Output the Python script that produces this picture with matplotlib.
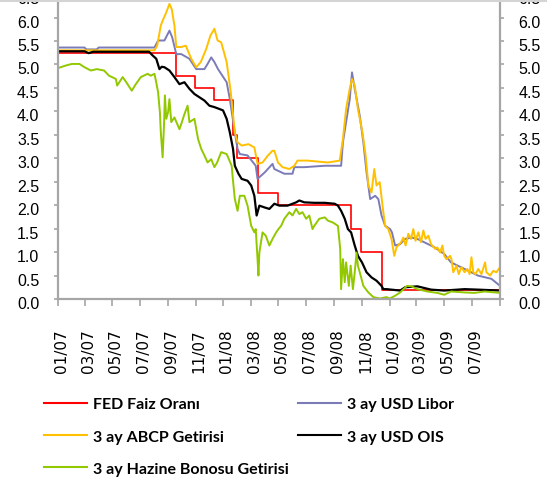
import matplotlib
matplotlib.use("Agg")
import matplotlib.pyplot as plt
import numpy as np
import pandas as pd
from matplotlib.patches import Rectangle
from matplotlib.transforms import ScaledTranslation

# FED policy rate (step changes)
fed_dates = ["2007-01-01", "2007-09-18", "2007-10-31", "2007-12-11", "2008-01-22",
             "2008-01-30", "2008-03-18", "2008-04-30", "2008-10-08", "2008-10-29",
             "2008-12-16", "2009-09-01"]
fed_rate = [5.25, 4.75, 4.50, 4.25, 3.50, 3.00, 2.25, 2.00, 1.50, 1.00, 0.20, 0.20]

# 3 month USD Libor
libor_dates = ["2007-01-01", "2007-03-01", "2007-03-05", "2007-03-28", "2007-04-01",
               "2007-08-02", "2007-08-10", "2007-08-24", "2007-09-04", "2007-09-10",
               "2007-09-19", "2007-09-30", "2007-10-18", "2007-11-02", "2007-11-20",
               "2007-11-27", "2007-12-05", "2007-12-12", "2007-12-20", "2008-01-08",
               "2008-01-15", "2008-01-26", "2008-02-01", "2008-02-06", "2008-02-23",
               "2008-03-12", "2008-03-16", "2008-04-01", "2008-04-18", "2008-04-22",
               "2008-05-14", "2008-06-01", "2008-06-05", "2008-06-27", "2008-08-11",
               "2008-09-16", "2008-09-20", "2008-09-27", "2008-10-05", "2008-10-10",
               "2008-10-16", "2008-10-27", "2008-11-04", "2008-11-11", "2008-11-19",
               "2008-11-30", "2008-12-07", "2008-12-14", "2008-12-22", "2009-01-02",
               "2009-01-06", "2009-01-13", "2009-01-24", "2009-02-04", "2009-02-18",
               "2009-03-03", "2009-03-18", "2009-04-10", "2009-05-01", "2009-05-16",
               "2009-06-15", "2009-07-14", "2009-08-13", "2009-09-01"]
libor = [5.36, 5.36, 5.32, 5.32, 5.36,
         5.36, 5.51, 5.51, 5.72, 5.58,
         5.22, 5.22, 5.12, 4.90, 4.90,
         5.01, 5.15, 5.05, 4.90, 4.62,
         4.26, 3.55, 3.20, 3.09, 3.06,
         2.84, 2.56, 2.70, 2.88, 2.77,
         2.67, 2.67, 2.81, 2.81, 2.84,
         2.84, 3.34, 3.77, 4.26, 4.83,
         4.48, 3.91, 3.34, 2.70, 2.13,
         2.20, 2.13, 1.78, 1.56, 1.49,
         1.42, 1.14, 1.17, 1.28, 1.31,
         1.28, 1.21, 1.10, 0.96, 0.78,
         0.64, 0.50, 0.43, 0.28]

# 3 month ABCP yield
abcp_dates = ["2007-01-01", "2007-08-02", "2007-08-08", "2007-08-16", "2007-08-20",
              "2007-08-28", "2007-09-04", "2007-09-09", "2007-09-15", "2007-09-19",
              "2007-09-30", "2007-10-10", "2007-10-22", "2007-11-02", "2007-11-12",
              "2007-11-24", "2007-12-03", "2007-12-12", "2007-12-19", "2007-12-27",
              "2008-01-08", "2008-01-17", "2008-01-26", "2008-02-01", "2008-02-10",
              "2008-02-25", "2008-03-09", "2008-03-16", "2008-03-27", "2008-04-08",
              "2008-04-18", "2008-04-22", "2008-04-30", "2008-05-10", "2008-05-25",
              "2008-06-05", "2008-06-12", "2008-07-04", "2008-07-26", "2008-08-18",
              "2008-09-13", "2008-09-20", "2008-09-27", "2008-10-05", "2008-10-10",
              "2008-10-16", "2008-10-23", "2008-11-02", "2008-11-09", "2008-11-15",
              "2008-11-22", "2008-11-28", "2008-12-03", "2008-12-10", "2008-12-18",
              "2008-12-22", "2008-12-29", "2009-01-05", "2009-01-11", "2009-01-16",
              "2009-01-26", "2009-01-31", "2009-02-05", "2009-02-11", "2009-02-17",
              "2009-02-22", "2009-02-27", "2009-03-05", "2009-03-11", "2009-03-16",
              "2009-03-21", "2009-03-27", "2009-04-02", "2009-04-11", "2009-04-16",
              "2009-04-22", "2009-04-27", "2009-05-01", "2009-05-06", "2009-05-14",
              "2009-05-17", "2009-05-21", "2009-05-28", "2009-06-02", "2009-06-08",
              "2009-06-15", "2009-06-21", "2009-06-26", "2009-06-30", "2009-07-04",
              "2009-07-09", "2009-07-15", "2009-07-22", "2009-07-30", "2009-08-02",
              "2009-08-10", "2009-08-17", "2009-08-24", "2009-09-01"]
abcp = [5.30, 5.30, 5.40, 5.83, 5.93,
        6.11, 6.29, 6.18, 5.83, 5.37,
        5.37, 5.40, 5.12, 4.94, 5.05,
        5.33, 5.61, 5.76, 5.51, 5.47,
        5.05, 4.41, 3.55, 3.34, 3.27,
        3.30, 3.23, 2.88, 2.91, 3.06,
        3.16, 3.16, 2.91, 2.81, 2.77,
        2.84, 2.95, 2.95, 2.93, 2.91,
        2.95, 3.41, 4.05, 4.48, 4.69,
        4.55, 4.05, 3.55, 3.06, 2.42,
        2.27, 2.77, 2.42, 2.49, 1.85,
        1.56, 1.49, 1.28, 0.92, 1.10,
        1.21, 1.31, 1.14, 1.39, 1.28,
        1.49, 1.24, 1.42, 1.21, 1.46,
        1.28, 1.35, 1.17, 1.07, 1.10,
        0.99, 1.14, 0.92, 0.85, 0.92,
        0.85, 0.57, 0.71, 0.53, 0.68,
        0.57, 0.64, 0.53, 0.89, 0.57,
        0.53, 0.64, 0.53, 0.78, 0.57,
        0.50, 0.60, 0.57, 0.68]

# 3 month USD OIS
ois_dates = ["2007-01-01", "2007-03-01", "2007-03-10", "2007-03-20", "2007-07-21",
             "2007-07-28", "2007-08-06", "2007-08-13", "2007-08-18", "2007-08-24",
             "2007-09-04", "2007-09-15", "2007-09-26", "2007-10-07", "2007-10-18",
             "2007-10-29", "2007-11-09", "2007-11-20", "2007-12-01", "2007-12-12",
             "2007-12-23", "2007-12-31", "2008-01-08", "2008-01-15", "2008-01-22",
             "2008-01-26", "2008-02-03", "2008-02-10", "2008-02-23", "2008-03-02",
             "2008-03-09", "2008-03-14", "2008-03-20", "2008-04-01", "2008-04-11",
             "2008-04-22", "2008-05-03", "2008-05-21", "2008-06-09", "2008-06-16",
             "2008-06-27", "2008-07-19", "2008-08-11", "2008-09-02", "2008-09-09",
             "2008-09-16", "2008-09-24", "2008-10-01", "2008-10-08", "2008-10-16",
             "2008-10-23", "2008-11-01", "2008-11-11", "2008-11-22", "2008-12-03",
             "2008-12-14", "2008-12-18", "2008-12-25", "2009-01-24", "2009-02-04",
             "2009-03-03", "2009-04-02", "2009-05-01", "2009-06-15", "2009-07-14",
             "2009-09-01"]
ois = [5.28, 5.28, 5.24, 5.27, 5.27,
       5.20, 5.12, 4.90, 4.95, 4.94,
       4.87, 4.73, 4.58, 4.62, 4.48,
       4.37, 4.30, 4.23, 4.12, 4.09,
       4.05, 4.02, 3.84, 3.55, 3.20,
       2.84, 2.67, 2.56, 2.52, 2.42,
       2.20, 1.78, 1.99, 1.95, 1.92,
       2.03, 1.99, 1.99, 2.06, 2.10,
       2.06, 2.05, 2.05, 2.03, 1.99,
       1.88, 1.71, 1.49, 1.42, 1.14,
       0.92, 0.78, 0.57, 0.46, 0.39,
       0.28, 0.21, 0.21, 0.18, 0.25,
       0.27, 0.20, 0.18, 0.21, 0.20,
       0.18]

# 3 month Treasury bill yield
tbill_dates = ["2007-01-01", "2007-01-20", "2007-02-01", "2007-02-18", "2007-03-01",
               "2007-03-15", "2007-03-28", "2007-04-13", "2007-04-24", "2007-05-09",
               "2007-05-12", "2007-05-24", "2007-06-01", "2007-06-13", "2007-06-22",
               "2007-07-03", "2007-07-18", "2007-07-25", "2007-08-02", "2007-08-05",
               "2007-08-10", "2007-08-14", "2007-08-16", "2007-08-20", "2007-08-23",
               "2007-08-25", "2007-08-28", "2007-09-01", "2007-09-04", "2007-09-08",
               "2007-09-15", "2007-09-26", "2007-09-30", "2007-10-07", "2007-10-14",
               "2007-10-18", "2007-10-29", "2007-11-06", "2007-11-13", "2007-11-20",
               "2007-11-27", "2007-12-05", "2007-12-12", "2007-12-18", "2007-12-27",
               "2008-01-08", "2008-01-19", "2008-01-22", "2008-01-26", "2008-02-01",
               "2008-02-06", "2008-02-16", "2008-02-23", "2008-03-02", "2008-03-09",
               "2008-03-12", "2008-03-16", "2008-03-18", "2008-03-20", "2008-03-27",
               "2008-04-03", "2008-04-11", "2008-04-18", "2008-04-26", "2008-05-01",
               "2008-05-07", "2008-05-14", "2008-05-25", "2008-06-01", "2008-06-09",
               "2008-06-16", "2008-06-23", "2008-07-01", "2008-07-08", "2008-07-15",
               "2008-07-19", "2008-07-30", "2008-08-11", "2008-08-18", "2008-08-29",
               "2008-09-09", "2008-09-14", "2008-09-16", "2008-09-20", "2008-09-24",
               "2008-09-27", "2008-10-03", "2008-10-07", "2008-10-12", "2008-10-16",
               "2008-10-20", "2008-10-23", "2008-10-29", "2008-11-04", "2008-11-15",
               "2008-11-26", "2008-12-10", "2008-12-25", "2009-01-01", "2009-01-13",
               "2009-01-24", "2009-02-08", "2009-02-18", "2009-03-03", "2009-03-25",
               "2009-04-16", "2009-05-01", "2009-05-16", "2009-06-15", "2009-07-06",
               "2009-07-29", "2009-09-01"]
tbill = [4.92, 4.98, 5.01, 5.01, 4.94,
         4.87, 4.90, 4.87, 4.76, 4.69,
         4.55, 4.73, 4.62, 4.44, 4.58,
         4.73, 4.80, 4.76, 4.80, 4.66,
         4.41, 3.98, 3.55, 3.02, 3.70,
         4.34, 3.84, 3.98, 4.26, 3.77,
         3.87, 3.62, 3.73, 3.94, 4.12,
         3.77, 3.84, 3.41, 3.20, 3.06,
         2.91, 2.98, 2.81, 2.91, 3.13,
         3.09, 2.84, 2.52, 2.13, 1.88,
         2.20, 2.20, 1.99, 1.56, 1.42,
         1.49, 0.85, 0.50, 0.99, 1.42,
         1.35, 1.14, 1.28, 1.42, 1.49,
         1.56, 1.71, 1.85, 1.78, 1.92,
         1.81, 1.85, 1.71, 1.78, 1.49,
         1.56, 1.71, 1.74, 1.67, 1.63,
         1.56, 1.07, 0.21, 0.85, 0.36,
         0.78, 0.28, 0.71, 0.21, 0.57,
         0.99, 0.71, 0.50, 0.28, 0.14,
         0.04, 0.01, 0.04, 0.01, 0.07,
         0.14, 0.28, 0.27, 0.21, 0.16,
         0.13, 0.09, 0.16, 0.14, 0.13,
         0.16, 0.13]

labels = ["FED Faiz Oranı", "3 ay USD Libor", "3 ay ABCP Getirisi",
          "3 ay USD OIS", "3 ay Hazine Bonosu Getirisi"]
colors = ["#ff0000", "#7b7bb8", "#ffc000", "#000000", "#92c800"]

fig = plt.figure(figsize=(5.55, 4.81), dpi=100)
ax = fig.add_axes([0.104, 0.3763, 0.797, 0.634])

h_fed, = ax.plot(pd.to_datetime(fed_dates), fed_rate, drawstyle="steps-post",
                 color=colors[0], lw=1.2, label=labels[0])
h_libor, = ax.plot(pd.to_datetime(libor_dates), libor, color=colors[1], lw=1.4, label=labels[1])
h_abcp, = ax.plot(pd.to_datetime(abcp_dates), abcp, color=colors[2], lw=1.4, label=labels[2])
h_ois, = ax.plot(pd.to_datetime(ois_dates), ois, color=colors[3], lw=1.6, label=labels[3])
h_tbill, = ax.plot(pd.to_datetime(tbill_dates), tbill, color=colors[4], lw=1.4, label=labels[4])

ax.set_xlim(pd.Timestamp("2007-01-01"), pd.Timestamp("2009-09-01"))
ax.set_ylim(0, 6.5)

# axes styling
axis_gray = "#a6a6a6"
for side in ["left", "right", "bottom"]:
    ax.spines[side].set_color(axis_gray)
    ax.spines[side].set_linewidth(1.6)
ax.spines["top"].set_visible(False)

yt = np.arange(0, 6.51, 0.5)
ax.set_yticks(yt)
ax.set_yticklabels([f"{v:.1f}" for v in yt])
ax.tick_params(axis="y", which="both", left=True, right=True, labelleft=True,
               labelright=True, direction="out", length=3, width=1.2,
               color=axis_gray, pad=10.3, labelsize=11.5)

xt = pd.date_range("2007-01-01", "2009-09-01", freq="2MS")
ax.set_xticks(xt)
ax.set_xticklabels([d.strftime("%m/%y") for d in xt[:-1]] + [""], rotation=90,
                   va="top", ha="center", fontfamily="DejaVu Sans", fontsize=11)
ax.tick_params(axis="x", direction="out", length=5, width=1.2, color=axis_gray, pad=16)

for t in ax.yaxis.get_major_ticks():
    for lbl in (t.label1, t.label2):
        lbl.set_fontfamily("Liberation Sans")
        lbl.set_transform(lbl.get_transform() + ScaledTranslation(0, -3 / 100, fig.dpi_scale_trans))
for t in ax.xaxis.get_major_ticks():
    t.label1.set_transform(t.label1.get_transform() + ScaledTranslation(3.5 / 100, 0, fig.dpi_scale_trans))

# chart frame edge along the top
fig.add_artist(Rectangle((0, 1 - 2.6 / 481), 547 / 555, 2.6 / 481, transform=fig.transFigure,
                         facecolor="#d4d4d4", edgecolor="none", zorder=10))

leg = fig.legend([h_fed, h_abcp, h_tbill, h_libor, h_ois],
                 [labels[0], labels[2], labels[4], labels[1], labels[3]],
                 loc="upper left", bbox_to_anchor=(0.079, 0.172), ncol=2, frameon=False,
                 prop={"family": "Lato", "weight": "bold", "size": 11.5},
                 handlelength=2.7, handletextpad=0.4, labelspacing=1.12,
                 columnspacing=0.52, borderpad=0, borderaxespad=0)
for line in leg.get_lines():
    line.set_linewidth(1.5)

fig.savefig("out.png", dpi=100, facecolor="white")
